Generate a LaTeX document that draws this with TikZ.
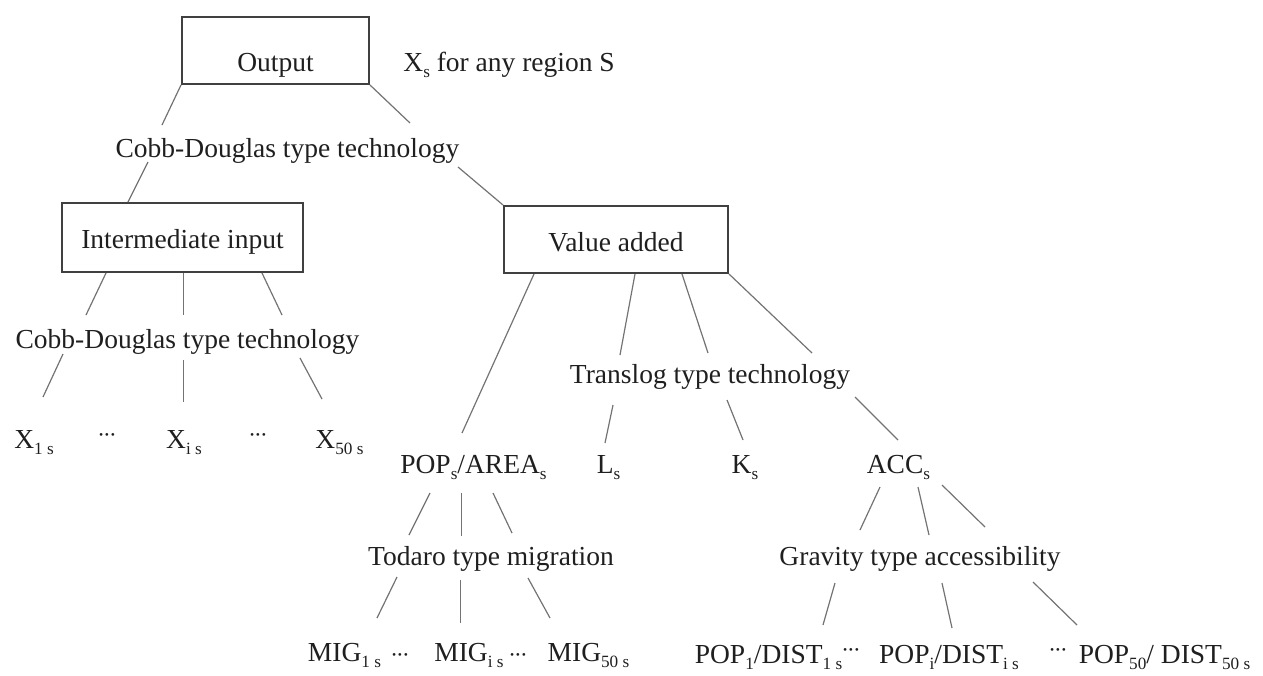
\documentclass[tikz,border=0pt]{standalone}
\usepackage{fontspec}
\setmainfont{Liberation Serif}
\usetikzlibrary{calc,positioning}

% small subscripts and tight centred dots, as in the figure
\newcommand{\sub}[1]{\raisebox{-0.24em}{\fontsize{8.6}{9}\selectfont #1}}
\newcommand{\tdots}{{\fontsize{11.5}{12}\selectfont\textperiodcentered\kern-0.9pt\textperiodcentered\kern-0.9pt\textperiodcentered}}

\begin{document}
\begin{tikzpicture}[
  x=0.5pt, y=-0.5pt,
  font=\fontsize{13.75}{16}\selectfont,
  box/.style={draw=black!75,line width=1pt,text=black!88,text height=11pt,text depth=0pt},
  lbl/.style={inner sep=0pt,anchor=base,text=black!88},
  link/.style={draw=black!55,line width=0.6pt}
]
  \useasboundingbox (0,0) rectangle (1263,675);

  % boxes
  \node[box,minimum width=93.5pt,minimum height=33.5pt,text height=20.5pt] (out) at (275.5,50.5) {Output};
  \node[lbl,base right=16.5pt of out] (xs) {X\sub{s} for any region S};
  \node[box,minimum width=120.5pt,minimum height=34.5pt,text height=10.5pt] (inter) at (182.5,237.5) {Intermediate input};
  \node[box,minimum width=112pt,minimum height=33.5pt,text height=11.5pt] (va) at (616,239.5) {Value added};

  % technology labels
  \node[lbl] (cd1) at (287.5,157) {Cobb-Douglas type technology};
  \node[lbl] (cd2) at (187.5,348) {Cobb-Douglas type technology};
  \node[lbl] (tl) at (710,383) {Translog type technology};
  \node[lbl] (tod) at (491,565) {Todaro type migration};
  \node[lbl] (grav) at (920,565) {Gravity type accessibility};

  % inputs
  \node[lbl] (x1) at (34,448) {X\sub{1 s}};
  \node[lbl] (xd1) at (107,442) {\tdots};
  \node[lbl] (xi) at (184,448) {X\sub{i s}};
  \node[lbl] (xd2) at (258,442) {\tdots};
  \node[lbl] (x50) at (339.5,448) {X\sub{50 s}};

  \node[lbl] (pa) at (473.5,473) {POP\sub{s}/AREA\sub{s}};
  \node[lbl] (ls) at (608.5,473) {L\sub{s}};
  \node[lbl] (ks) at (745,473) {K\sub{s}};
  \node[lbl] (acc) at (898.5,473) {ACC\sub{s}};

  \node[lbl] (m1) at (344.5,661) {MIG\sub{1 s}};
  \node[lbl] (md1) at (400,662) {\tdots};
  \node[lbl] (mi) at (469,661) {MIG\sub{i s}};
  \node[lbl] (md2) at (518,662) {\tdots};
  \node[lbl] (m50) at (588.5,661) {MIG\sub{50 s}};

  \node[lbl] (p1) at (768.5,663) {POP\sub{1}/DIST\sub{1 s}};
  \node[lbl] (pd1) at (851,657) {\tdots};
  \node[lbl] (pi) at (949,663) {POP\sub{i}/DIST\sub{i s}};
  \node[lbl] (pd2) at (1058,657) {\tdots};
  \node[lbl] (p50) at (1164.5,663) {POP\sub{50}/ DIST\sub{50 s}};

  % output
  \draw[link] (out.south west) -- ($(cd1.base)+(-125.5,-32)$);
  \draw[link] (out.south east) -- ($(cd1.base)+(122.5,-34)$);
  \draw[link] ($(cd1.base)+(-139.5,5)$) -- ($(inter.north)+(-54.5,0)$);
  \draw[link] ($(cd1.base)+(170.5,10)$) -- (va.north west);

  % intermediate input
  \draw[link] ($(inter.south)+(-76.5,0)$) -- ($(cd2.base)+(-101.5,-33)$);
  \draw[link] ($(inter.south)+(1,0)$) -- ($(cd2.base)+(-4,-33)$);
  \draw[link] ($(inter.south)+(79.5,0)$) -- ($(cd2.base)+(94.5,-33)$);
  \draw[link] ($(cd2.base)+(-124.5,6)$) -- ($(x1.base)+(9,-51)$);
  \draw[link] ($(cd2.base)+(-4,12)$) -- ($(xi.base)+(-0.5,-46)$);
  \draw[link] ($(cd2.base)+(112.5,10)$) -- ($(x50.base)+(-17.5,-49)$);

  % value added
  \draw[link] ($(va.south west)+(31,0)$) -- ($(pa.base)+(-11.5,-40)$);
  \draw[link] ($(va.south)+(19,0)$) -- ($(tl.base)+(-90,-28)$);
  \draw[link] ($(va.south)+(66,0)$) -- ($(tl.base)+(-2,-30)$);
  \draw[link] (va.south east) -- ($(tl.base)+(102,-30)$);
  \draw[link] ($(tl.base)+(-97,22)$) -- ($(ls.base)+(-3.5,-30)$);
  \draw[link] ($(tl.base)+(17,17)$) -- ($(ks.base)+(-2,-33)$);
  \draw[link] ($(tl.base)+(145,14)$) -- ($(acc.base)+(-0.5,-33)$);

  % migration
  \draw[link] ($(pa.base)+(-43.5,20)$) -- ($(tod.base)+(-82,-30)$);
  \draw[link] ($(pa.base)+(-12,20)$) -- ($(tod.base)+(-29.5,-29)$);
  \draw[link] ($(pa.base)+(19.5,20)$) -- ($(tod.base)+(21,-32)$);
  \draw[link] ($(tod.base)+(-94,12)$) -- ($(m1.base)+(32.5,-43)$);
  \draw[link] ($(tod.base)+(-30.5,15)$) -- ($(mi.base)+(-8.5,-38)$);
  \draw[link] ($(tod.base)+(37,13)$) -- ($(m50.base)+(-38.5,-43)$);

  % accessibility
  \draw[link] ($(acc.base)+(-18.5,14)$) -- ($(grav.base)+(-60,-35)$);
  \draw[link] ($(acc.base)+(19.5,14)$) -- ($(grav.base)+(9,-30)$);
  \draw[link] ($(acc.base)+(43.5,12)$) -- ($(grav.base)+(65,-38)$);
  \draw[link] ($(grav.base)+(-85,18)$) -- ($(p1.base)+(54.5,-38)$);
  \draw[link] ($(grav.base)+(22,18)$) -- ($(pi.base)+(3,-35)$);
  \draw[link] ($(grav.base)+(113,17)$) -- ($(p50.base)+(-87.5,-38)$);
\end{tikzpicture}
\end{document}
